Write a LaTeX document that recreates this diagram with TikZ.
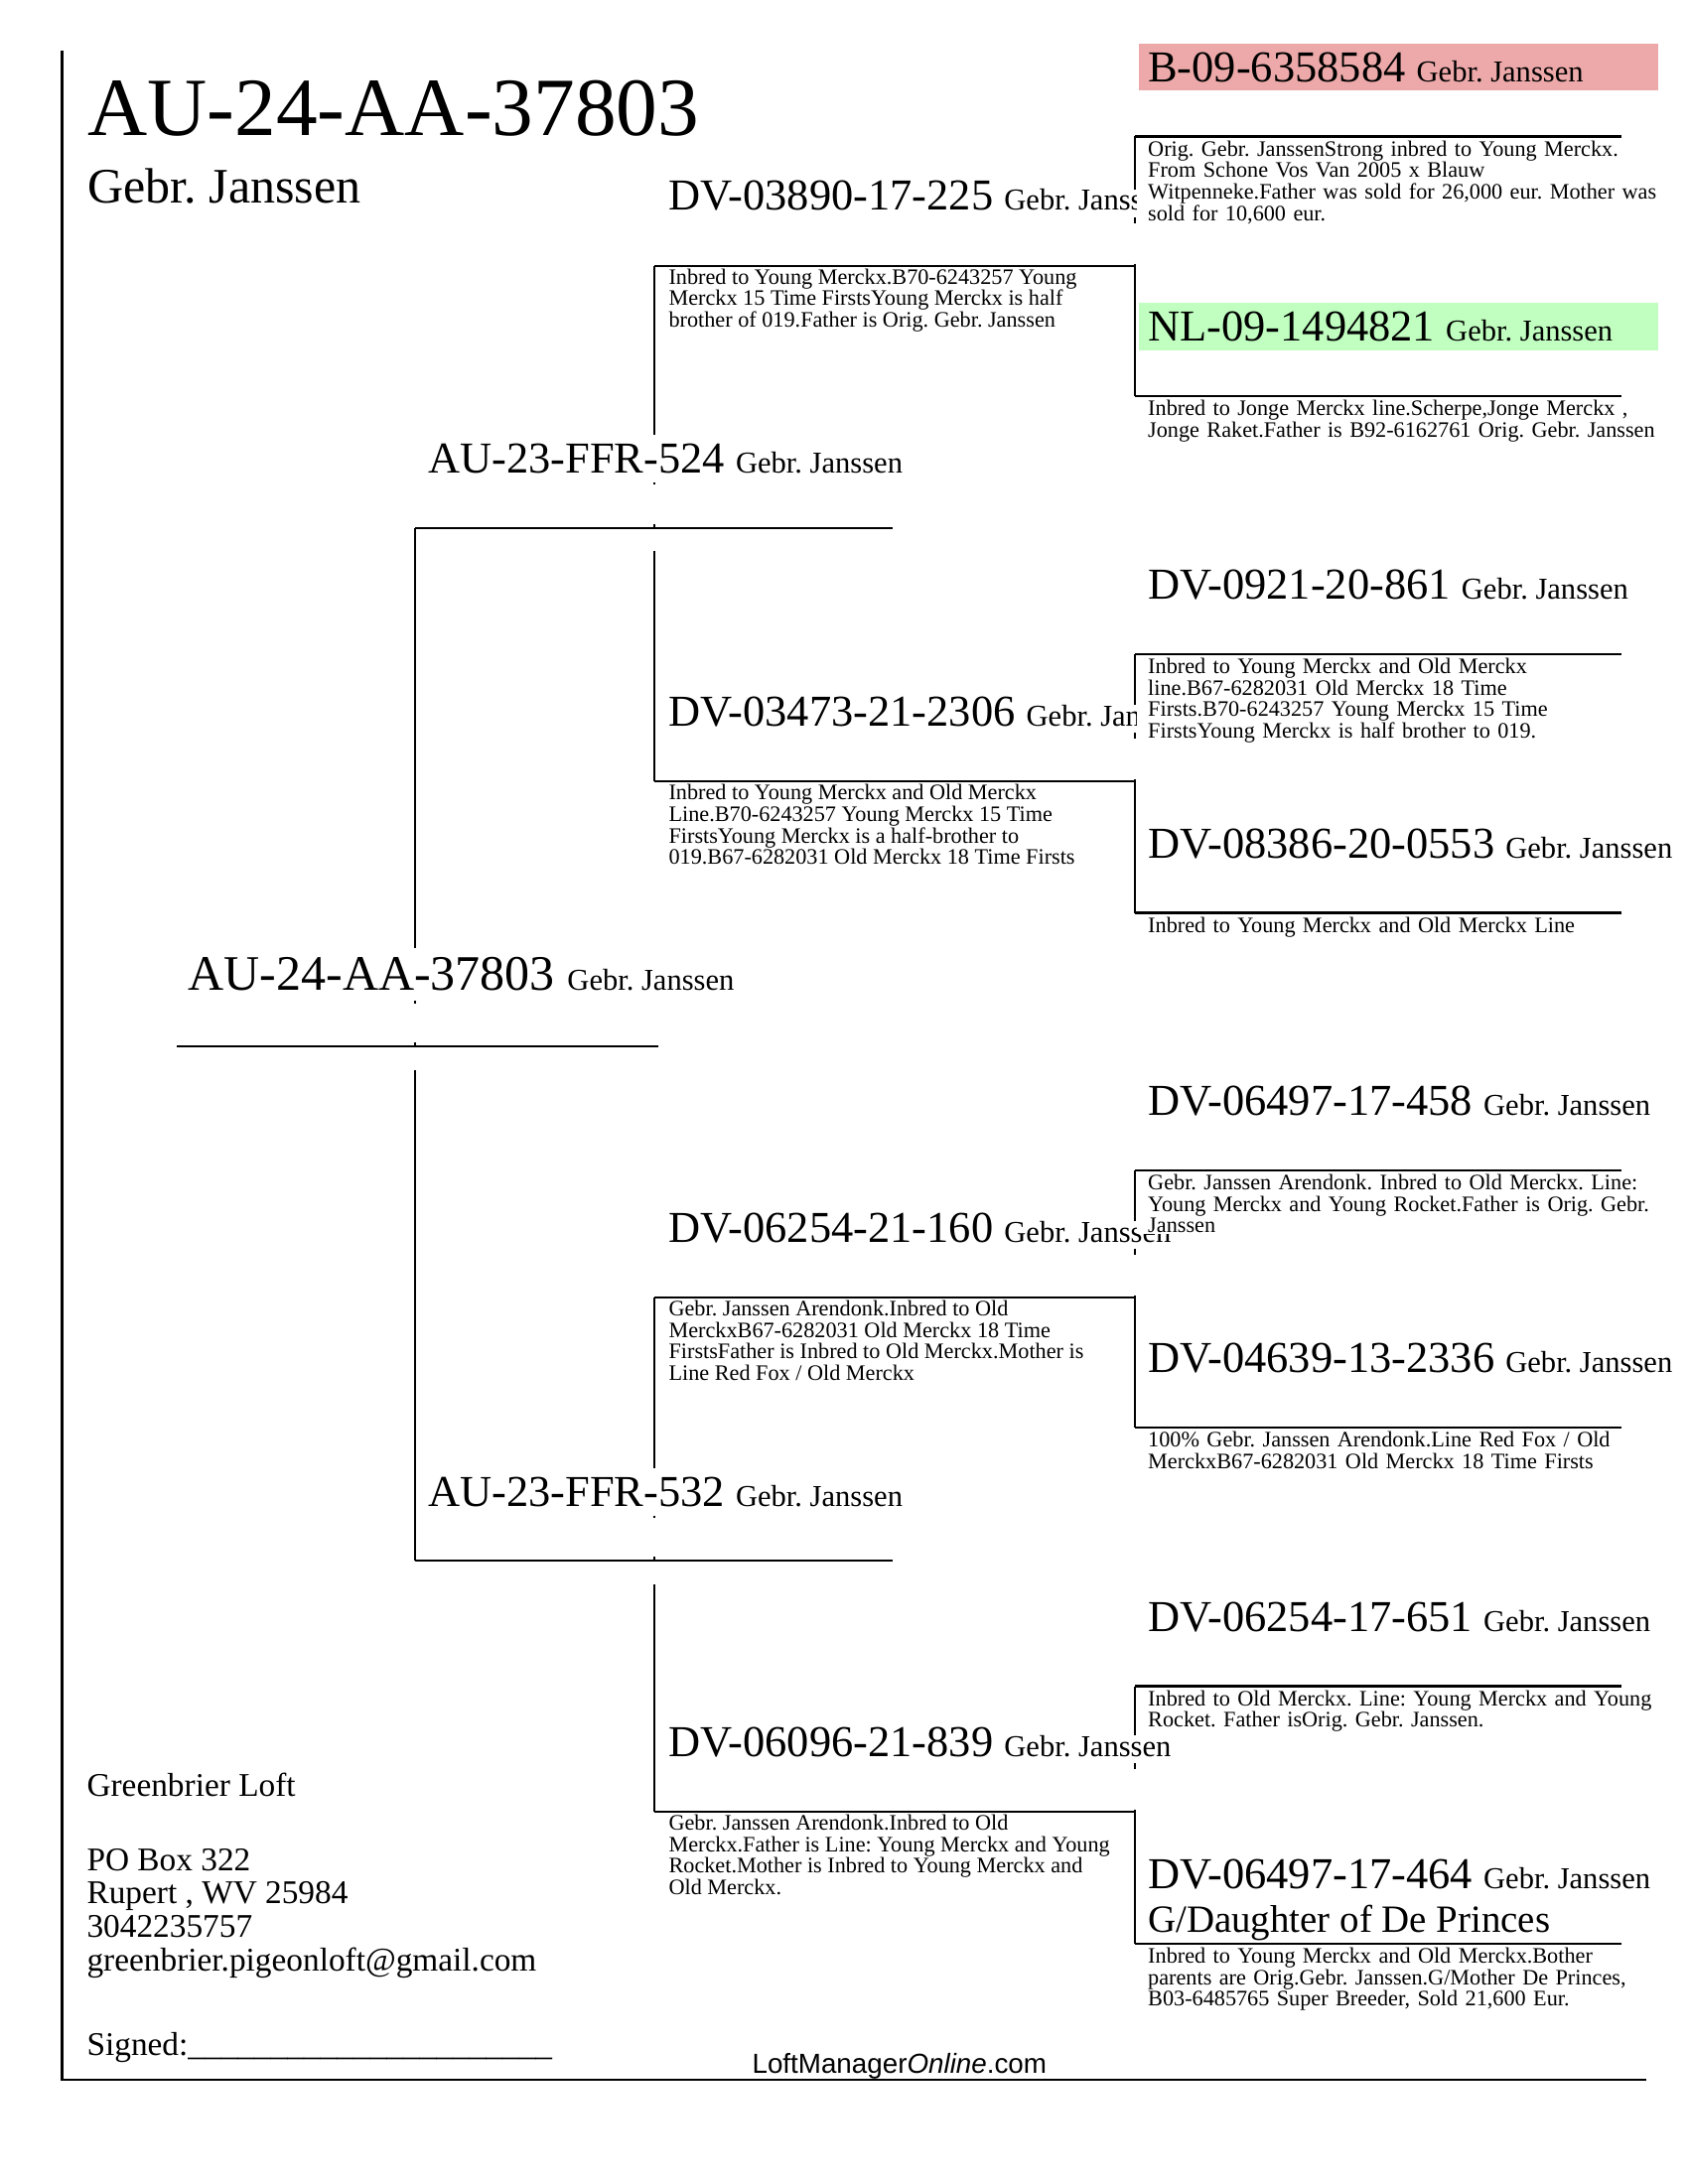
\documentclass[tikz,border=0pt]{standalone}
\usepackage{fontspec}
\setmainfont{Liberation Serif}
\newfontfamily\lmsans{Liberation Sans}
\usetikzlibrary{calc}
\definecolor{pinkbg}{RGB}{237,169,169}
\definecolor{greenbg}{RGB}{192,255,192}
\newcommand\gjn{{\fontsize{11}{13}\selectfont Gebr. Janssen}}
\newcommand\hs{\rule{0pt}{5.5pt}}
\frenchspacing
\begin{document}
\frenchspacing
\begin{tikzpicture}[x=0.36pt,y=-0.36pt,
  ln/.style={line width=0.8pt},
  frameline/.style={line width=0.9pt},
  pname/.style={anchor=base west,inner sep=0pt,font=\fontsize{16}{15.5}\selectfont},
  titletext/.style={anchor=base west,inner sep=0pt,font=\fontsize{30}{34}\selectfont},
  subtext/.style={anchor=base west,inner sep=0pt,font=\fontsize{18}{20}\selectfont},
  addr/.style={anchor=base west,inner sep=0pt,font=\fontsize{12}{14}\selectfont},
  dleft/.style={anchor=north west,inner sep=0pt,align=left,font=\fontsize{8}{7.78}\selectfont},
  dright/.style={anchor=north west,fill=white,inner xsep=4.2pt,inner ysep=0.3pt,text width=190pt,align=left,font=\fontsize{8}{7.78}\selectfont},
]
\useasboundingbox (0,0) rectangle (1700,2200);

% coloured backgrounds of the two highlighted ancestors
\fill[pinkbg] (1147,44) rectangle (1669.5,91.5);
\fill[greenbg] (1147,305.5) rectangle (1669.5,353);

% header
\node[titletext] (title) at (88,136.5) {AU-24-AA-37803};
\node[subtext] (owner) at (88,204.5) {Gebr. Janssen};

% generation 1
\node[pname,font=\fontsize{18}{18}\selectfont] (p1) at (189,997) {AU-24-AA-37803 \gjn};
% generation 2
\node[pname] (ps) at (430.6,476.7) {AU-23-FFR-524 \gjn};
\node[pname] (pm) at (430.6,1517) {AU-23-FFR-532 \gjn};
% generation 3
\node[pname] (pa) at (673,212) {DV-03890-17-225 \gjn};
\node[pname] (pb) at (673,731.7) {DV-03473-21-2306 \gjn};
\node[pname] (pc) at (673,1251.1) {DV-06254-21-160 \gjn};
\node[pname] (pd) at (673,1769.5) {DV-06096-21-839 \gjn};
% generation 4
\node[pname] (r1) at (1155.7,83) {B-09-6358584 \gjn};
\node[pname] (r2) at (1155.7,344) {NL-09-1494821 \gjn};
\node[pname] (r3) at (1155.7,603.5) {DV-0921-20-861 \gjn};
\node[pname] (r4) at (1155.7,864) {DV-08386-20-0553 \gjn};
\node[pname] (r5) at (1155.7,1123.5) {DV-06497-17-458 \gjn};
\node[pname] (r6) at (1155.7,1382.5) {DV-04639-13-2336 \gjn};
\node[pname] (r7) at (1155.7,1643) {DV-06254-17-651 \gjn};
\node[pname] (r8) at (1155.7,1902.5) {DV-06497-17-464 \gjn};
\node[pname,font=\fontsize{14}{14}\selectfont] (r8b) at (1155.7,1946.7) {G/Daughter of De Princes};

% descriptions, generation 3
\node[dleft] (da) at (673,270.4) {\hs Inbred to Young Merckx.B70-6243257 Young\\Merckx 15 Time FirstsYoung Merckx is half\\brother of 019.Father is Orig. Gebr. Janssen};
\node[dleft] (db) at (673,790) {\hs Inbred to Young Merckx and Old Merckx\\Line.B70-6243257 Young Merckx 15 Time\\FirstsYoung Merckx is a half-brother to\\019.B67-6282031 Old Merckx 18 Time Firsts};
\node[dleft] (dc) at (673,1309.4) {\hs Gebr. Janssen Arendonk.Inbred to Old\\MerckxB67-6282031 Old Merckx 18 Time\\FirstsFather is Inbred to Old Merckx.Mother is\\Line Red Fox / Old Merckx};
\node[dleft] (dd) at (673,1827.7) {\hs Gebr. Janssen Arendonk.Inbred to Old\\Merckx.Father is Line: Young Merckx and Young\\Rocket.Mother is Inbred to Young Merckx and\\Old Merckx.};

% descriptions, generation 4
\node[dright] (e1) at (1144,140.4) {\hs Orig. Gebr. JanssenStrong inbred to Young Merckx.\\From Schone Vos Van 2005 x Blauw\\Witpenneke.Father was sold for 26,000 eur. Mother was\\sold for 10,600 eur.};
\node[dright] (e2) at (1144,401.9) {\hs Inbred to Jonge Merckx line.Scherpe,Jonge Merckx ,\\Jonge Raket.Father is B92-6162761 Orig. Gebr. Janssen};
\node[dright] (e3) at (1144,661.9) {\hs Inbred to Young Merckx and Old Merckx\\line.B67-6282031 Old Merckx 18 Time\\Firsts.B70-6243257 Young Merckx 15 Time\\FirstsYoung Merckx is half brother to 019.};
\node[dright] (e4) at (1144,922.4) {\hs Inbred to Young Merckx and Old Merckx Line};
\node[dright] (e5) at (1144,1181.9) {\hs Gebr. Janssen Arendonk. Inbred to Old Merckx. Line:\\Young Merckx and Young Rocket.Father is Orig. Gebr.\\Janssen};
\node[dright] (e6) at (1144,1440.9) {\hs 100\% Gebr. Janssen Arendonk.Line Red Fox / Old\\MerckxB67-6282031 Old Merckx 18 Time Firsts};
\node[dright] (e7) at (1144,1701.4) {\hs Inbred to Old Merckx. Line: Young Merckx and Young\\Rocket. Father isOrig. Gebr. Janssen.};
\node[dright] (e8) at (1144,1960.9) {\hs Inbred to Young Merckx and Old Merckx.Bother\\parents are Orig.Gebr. Janssen.G/Mother De Princes,\\B03-6485765 Super Breeder, Sold 21,600 Eur.};

% line ends of every pigeon
\coordinate (G-l) at (178,1054.3);  \coordinate (G-r) at (663,1054.3);
\coordinate (S-l) at (418,531.7);   \coordinate (S-r) at (899,531.7);
\coordinate (M-l) at (418,1572.3);  \coordinate (M-r) at (899,1572.3);
\coordinate (A-l) at (659,267.7);   \coordinate (A-r) at (1143,267.7);
\coordinate (B-l) at (659,787.3);   \coordinate (B-r) at (1143,787.3);
\coordinate (C-l) at (659,1306.7);  \coordinate (C-r) at (1143,1306.7);
\coordinate (D-l) at (659,1825);    \coordinate (D-r) at (1143,1825);
\coordinate (R1-l) at (1143,137.5);  \coordinate (R1-r) at (1632.5,137.5);
\coordinate (R2-l) at (1143,399);    \coordinate (R2-r) at (1632.5,399);
\coordinate (R3-l) at (1143,659);    \coordinate (R3-r) at (1632.5,659);
\coordinate (R4-l) at (1143,919.5);  \coordinate (R4-r) at (1632.5,919.5);
\coordinate (R5-l) at (1143,1179);   \coordinate (R5-r) at (1632.5,1179);
\coordinate (R6-l) at (1143,1438);   \coordinate (R6-r) at (1632.5,1438);
\coordinate (R7-l) at (1143,1698.5); \coordinate (R7-r) at (1632.5,1698.5);
\coordinate (R8-l) at (1143,1958);   \coordinate (R8-r) at (1632.5,1958);

% horizontal lines
\foreach \p in {G,S,M,A,B,C,D,R1,R2,R3,R4,R5,R6,R7,R8}
  \draw[ln] (\p-l) -- (\p-r);

% brackets, generation 3 to 4
\foreach \t/\g/\b in {R1/A/R2,R3/B/R4,R5/C/R6,R7/D/R8}{
  \draw[ln] (\t-l) -- ($(\g-r)+(0,-77)$);
  \draw[ln] ($(\g-r)+(0,-49)$) -- ($(\g-r)+(0,-43)$);
  \draw[ln] ($(\g-r)+(0,-2)$) -- (\b-l);
}

% brackets, generation 2 to 3
\coordinate (S-v) at (A-l |- S-l);
\coordinate (M-v) at (C-l |- M-l);
\foreach \t/\g/\b in {A/S/B,C/M/D}{
  \draw[ln] (\t-l) -- ($(\g-v)+(0,-93.4)$);
  \draw[ln] ($(\g-v)+(0,-45.7)$) -- ($(\g-v)+(0,-43.7)$);
  \draw[ln] ($(\g-v)+(0,-4)$) -- (\g-v);
  \draw[ln] ($(\g-v)+(0,23.3)$) -- (\b-l);
}

% bracket, generation 1 to 2
\coordinate (G-v) at (S-l |- G-l);
\draw[ln] (S-l) -- ($(G-v)+(0,-99.3)$);
\draw[ln] ($(G-v)+(0,-46.3)$) -- ($(G-v)+(0,-43.6)$);
\draw[ln] ($(G-v)+(0,-4.3)$) -- (G-v);
\draw[ln] ($(G-v)+(0,24)$) -- (M-l);

% footer
\node[addr] (loft) at (87,1809) {Greenbrier Loft};
\node[addr] (box) at (87,1884) {PO Box 322};
\node[addr] (town) at (87,1917) {Rupert , WV 25984};
\node[addr] (phone) at (87,1951) {3042235757};
\node[addr] (mail) at (87,1985) {greenbrier.pigeonloft@gmail.com};
\node[addr] (sign) at (87,2070) {Signed:\_\_\_\_\_\_\_\_\_\_\_\_\_\_\_\_\_\_\_\_\_\_};
\node[anchor=base west,inner sep=0pt,font=\lmsans\fontsize{10}{12}\selectfont] (site) at (757,2088) {LoftManager\textit{Online}.com};

% frame
\coordinate (fr-top) at (62.5,51);
\coordinate (fr-corner) at (62.5,2095);
\coordinate (fr-end) at (1658,2095);
\draw[frameline] (fr-top) -- (fr-corner) -- (fr-end);
\end{tikzpicture}
\end{document}
